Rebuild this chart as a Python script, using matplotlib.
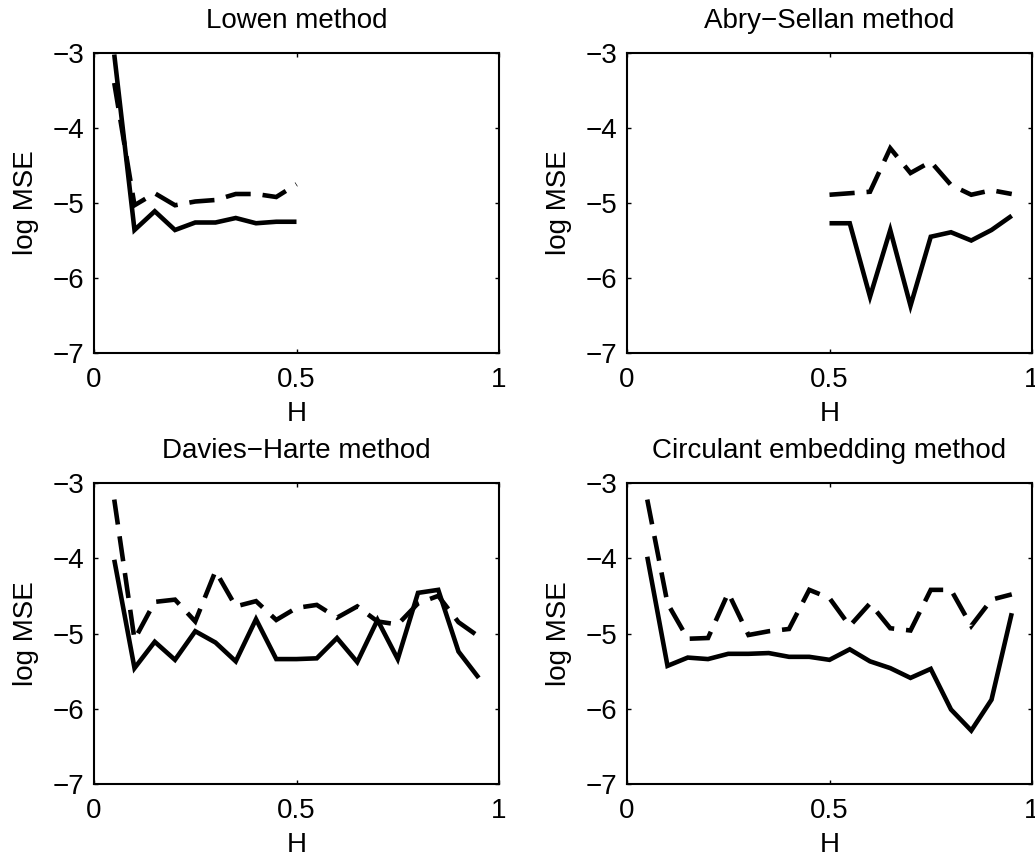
import numpy as np
import matplotlib
matplotlib.use("Agg")
import matplotlib.pyplot as plt

plt.rcParams['font.family'] = ['Liberation Sans', 'DejaVu Sans']
plt.rcParams['axes.unicode_minus'] = True

titles = ["Lowen method", "Abry\u2212Sellan method",
          "Davies\u2212Harte method", "Circulant embedding method"]

# Lowen method
h_lowen = [0.05, 0.10, 0.15, 0.20, 0.25, 0.30, 0.35, 0.40, 0.45, 0.50]
lowen_solid = [-3.02, -5.36, -5.11, -5.36, -5.26, -5.26, -5.20, -5.27, -5.25, -5.25]
lowen_dash = [-3.40, -5.03, -4.87, -5.03, -4.98, -4.96, -4.88, -4.88, -4.92, -4.75]

# Abry-Sellan method
h_abry = [0.50, 0.55, 0.60, 0.65, 0.70, 0.75, 0.80, 0.85, 0.90, 0.95]
abry_solid = [-5.27, -5.27, -6.25, -5.36, -6.37, -5.45, -5.39, -5.50, -5.36, -5.17]
abry_dash = [-4.89, -4.87, -4.85, -4.27, -4.60, -4.45, -4.76, -4.89, -4.83, -4.88]

# Davies-Harte method
h_full = [0.05, 0.10, 0.15, 0.20, 0.25, 0.30, 0.35, 0.40, 0.45, 0.50,
          0.55, 0.60, 0.65, 0.70, 0.75, 0.80, 0.85, 0.90, 0.95]
dh_solid = [-4.02, -5.46, -5.11, -5.35, -4.97, -5.12, -5.37, -4.81, -5.34, -5.34,
            -5.33, -5.06, -5.38, -4.82, -5.34, -4.46, -4.42, -5.24, -5.59]
dh_dash = [-3.22, -5.08, -4.58, -4.55, -4.84, -4.17, -4.64, -4.57, -4.82, -4.66,
           -4.62, -4.79, -4.64, -4.84, -4.88, -4.60, -4.50, -4.85, -5.04]

# Circulant embedding method
ce_solid = [-3.98, -5.43, -5.32, -5.34, -5.27, -5.27, -5.26, -5.31, -5.31, -5.35,
            -5.21, -5.37, -5.46, -5.59, -5.47, -6.01, -6.29, -5.88, -4.73]
ce_dash = [-3.22, -4.60, -5.07, -5.06, -4.46, -5.02, -4.97, -4.94, -4.42, -4.53,
           -4.90, -4.60, -4.93, -4.96, -4.42, -4.42, -4.90, -4.55, -4.48]

x_ticks = [0, 0.5, 1]
x_ticklabels = ["0", "0.5", "1"]
y_ticks = [-7, -6, -5, -4, -3]

panels = [
    (h_lowen, lowen_solid, lowen_dash),
    (h_abry, abry_solid, abry_dash),
    (h_full, dh_solid, dh_dash),
    (h_full, ce_solid, ce_dash),
]

W, H = 1035, 859
fig = plt.figure(figsize=(W / 100, H / 100), dpi=100)

# axes rectangles in pixels: left, top, right, bottom
rects = [(94, 53, 499, 353), (627, 53, 1032, 353),
         (94, 483, 499, 784), (627, 483, 1032, 784)]

FS = 20
for (l, t, r, b), title, (hx, s, d) in zip(rects, titles, panels):
    ax = fig.add_axes([l / W, 1 - b / H, (r - l) / W, (b - t) / H])
    ax.plot(hx, s, color='black', lw=3.3, solid_capstyle='butt', solid_joinstyle='miter')
    ax.plot(hx, d, color='black', lw=3.3, linestyle=(0, (5.5, 2.6)),
            dash_capstyle='butt', dash_joinstyle='miter')
    ax.set_xlim(0, 1)
    ax.set_ylim(-7, -3)
    ax.set_xticks(x_ticks)
    ax.set_xticklabels(x_ticklabels)
    ax.set_yticks(y_ticks)
    ax.tick_params(direction='in', length=3, width=1, top=True, right=True,
                   labelsize=FS)
    ax.tick_params(axis='x', pad=10)
    ax.tick_params(axis='y', pad=7)
    for sp in ax.spines.values():
        sp.set_linewidth(1.5)
    ax.set_title(title, fontsize=FS, pad=18)
    ax.set_xlabel("H", fontsize=FS, labelpad=6)
    ax.set_ylabel("log MSE", fontsize=FS, labelpad=10)

fig.savefig("out.png", dpi=100)
